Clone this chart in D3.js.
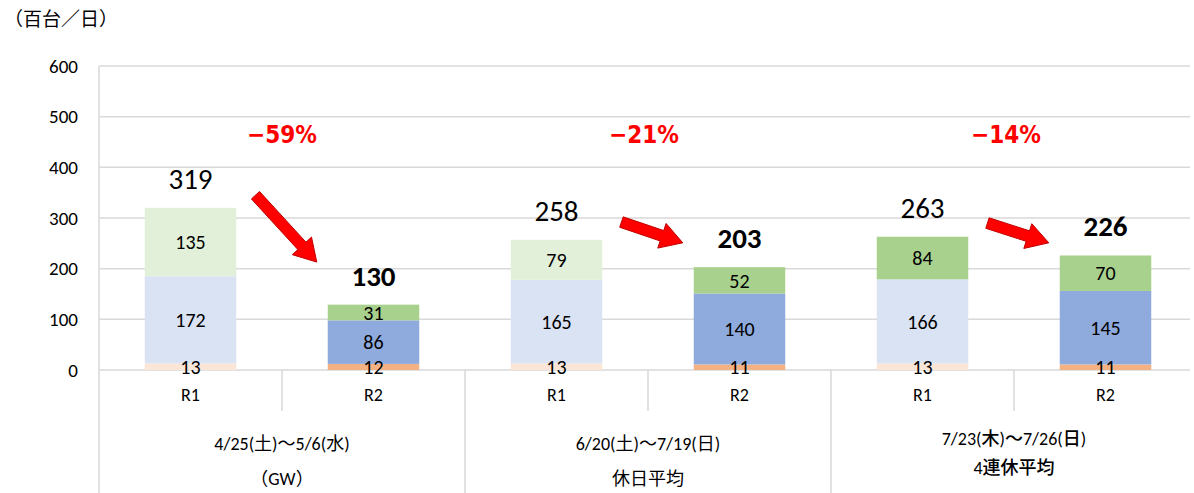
<!DOCTYPE html>
<html>
<head>
<meta charset="utf-8">
<script src="https://cdn.jsdelivr.net/npm/d3@7"></script>
<style>
  body { margin: 0; background: #fff; }
  text { font-family: Carlito, Lato, "Noto Sans CJK JP", sans-serif; fill: #000; }
</style>
</head>
<body>
<svg width="1194" height="493"></svg>
<script>
// data
let bars = ['g1R1', 'g1R2', 'g2R1', 'g2R2', 'g3R1', 'g3R2'];
let barLabels = ['R1', 'R2', 'R1', 'R2', 'R1', 'R2'];
let groupLabels = [
  ['4/25(土)～5/6(水)', '（GW）'],
  ['6/20(土)～7/19(日)', '休日平均'],
  ['7/23(木)～7/26(日)', '4連休平均']
];
let lowVals = [13, 12, 13, 11, 13, 11];
let midVals = [172, 86, 165, 140, 166, 145];
let topVals = [135, 31, 79, 52, 84, 70];
let totals = [319, 130, 258, 203, 263, 226];
let changes = ['−59%', '−21%', '−14%'];
let arrowFrom = [345, 292, 290];
let arrowTo = [213, 251, 251];
let yTicks = [0, 100, 200, 300, 400, 500, 600];

// colours per bar (pale for R1, strong for R2; 3rd group R1 top is strong green)
let lowFill = ['#fbe5d6', '#f4b183', '#fbe5d6', '#f4b183', '#fbe5d6', '#f4b183'];
let midFill = ['#dae3f3', '#8faadc', '#dae3f3', '#8faadc', '#dae3f3', '#8faadc'];
let topFill = ['#e2f0d9', '#a9d18e', '#e2f0d9', '#a9d18e', '#a9d18e', '#a9d18e'];

let svg = d3.select('svg');
let plotLeft = 99, plotRight = 1197, plotTop = 66, plotBottom = 370;

let x = d3.scaleBand().domain(bars).range([plotLeft, plotRight]).paddingInner(0.5).paddingOuter(0.25);
let y = d3.scaleLinear().domain([0, 600]).range([plotBottom, plotTop]);
let step = x.step();

// gridlines
svg.append('g')
  .selectAll('line')
  .data(yTicks)
  .join('line')
  .attr('x1', plotLeft)
  .attr('x2', 1190)
  .attr('y1', d => y(d))
  .attr('y2', d => y(d))
  .style('stroke', '#d9d9d9')
  .style('stroke-width', 1.5);

// y tick labels
svg.append('g')
  .selectAll('text')
  .data(yTicks)
  .join('text')
  .attr('x', 78)
  .attr('y', d => y(d))
  .attr('dy', '0.35em')
  .attr('text-anchor', 'end')
  .style('font-size', '19px')
  .text(d => d);

// unit
svg.append('text')
  .attr('x', 4)
  .attr('y', 26)
  .style('font-size', '19px')
  .style('font-family', '"Noto Sans CJK JP", sans-serif')
  .text('（百台／日）');

// stacked segments
let segs = [];
bars.forEach(function(b, i) {
  segs.push({ bar: b, y0: 0, y1: lowVals[i], v: lowVals[i], fill: lowFill[i] });
  segs.push({ bar: b, y0: lowVals[i], y1: lowVals[i] + midVals[i], v: midVals[i], fill: midFill[i] });
  segs.push({ bar: b, y0: lowVals[i] + midVals[i], y1: lowVals[i] + midVals[i] + topVals[i], v: topVals[i], fill: topFill[i] });
});

svg.append('g')
  .selectAll('rect')
  .data(segs)
  .join('rect')
  .attr('x', d => x(d.bar))
  .attr('width', x.bandwidth())
  .attr('y', d => y(d.y1))
  .attr('height', d => y(d.y0) - y(d.y1))
  .style('fill', d => d.fill);

svg.append('g')
  .selectAll('text')
  .data(segs)
  .join('text')
  .attr('x', d => x(d.bar) + x.bandwidth() / 2)
  .attr('y', d => (y(d.y0) + y(d.y1)) / 2)
  .attr('dy', '0.36em')
  .attr('text-anchor', 'middle')
  .style('font-size', '20px')
  .text(d => d.v);

// totals
svg.append('g')
  .selectAll('text')
  .data(bars)
  .join('text')
  .attr('x', d => x(d) + x.bandwidth() / 2)
  .attr('y', (d, i) => y(lowVals[i] + midVals[i] + topVals[i]) - 19)
  .attr('text-anchor', 'middle')
  .style('font-size', '29px')
  .style('font-weight', (d, i) => i % 2 ? 'bold' : 'normal')
  .text((d, i) => totals[i]);

// change labels
svg.append('g')
  .selectAll('text')
  .data(changes)
  .join('text')
  .attr('x', (d, i) => x(bars[2 * i]) + x.bandwidth() + step / 4 - 4 * i)
  .attr('y', 143)
  .attr('text-anchor', 'middle')
  .style('font-family', '"Liberation Sans Narrow", "DejaVu Sans Condensed", sans-serif')
  .style('font-weight', 'bold')
  .style('font-size', '24px')
  .style('fill', '#ff0000')
  .text(d => d);

// arrows
function arrowPath(x1, y1, x2, y2) {
  let dx = x2 - x1, dy = y2 - y1;
  let len = Math.sqrt(dx * dx + dy * dy);
  let ux = dx / len, uy = dy / len, nx = -uy, ny = ux;
  let sw = 5.5, hw = 13, hl = 22;
  let pts = [
    [0, -sw], [len - hl, -sw], [len - hl, -hw], [len, 0],
    [len - hl, hw], [len - hl, sw], [0, sw]
  ].map(p => [x1 + ux * p[0] + nx * p[1], y1 + uy * p[0] + ny * p[1]]);
  return d3.line()(pts) + 'Z';
}

svg.append('g')
  .selectAll('path')
  .data(changes)
  .join('path')
  .attr('d', (d, i) => arrowPath(
    x(bars[2 * i]) + x.bandwidth() / 2 + step * 0.355, y(arrowFrom[i]),
    x(bars[2 * i + 1]) + x.bandwidth() / 2 - step * 0.31, y(arrowTo[i])))
  .style('fill', '#ff0000')
  .style('stroke', '#c00000')
  .style('stroke-width', 1);

// category axis lines
svg.append('line')
  .attr('x1', plotLeft).attr('x2', plotLeft)
  .attr('y1', plotTop).attr('y2', 493)
  .style('stroke', '#d9d9d9').style('stroke-width', 1.5);

svg.append('g')
  .selectAll('line')
  .data(groupLabels)
  .join('line')
  .attr('x1', (d, i) => x(bars[2 * i + 1]) + x.bandwidth() + step / 4)
  .attr('x2', (d, i) => x(bars[2 * i + 1]) + x.bandwidth() + step / 4)
  .attr('y1', plotBottom)
  .attr('y2', 493)
  .style('stroke', '#d9d9d9').style('stroke-width', 1.5);

svg.append('g')
  .selectAll('line')
  .data(groupLabels)
  .join('line')
  .attr('x1', (d, i) => x(bars[2 * i]) + x.bandwidth() + step / 4)
  .attr('x2', (d, i) => x(bars[2 * i]) + x.bandwidth() + step / 4)
  .attr('y1', plotBottom)
  .attr('y2', 411)
  .style('stroke', '#d9d9d9').style('stroke-width', 1.5);

// bar labels
svg.append('g')
  .selectAll('text')
  .data(bars)
  .join('text')
  .attr('x', d => x(d) + x.bandwidth() / 2)
  .attr('y', 401)
  .attr('text-anchor', 'middle')
  .style('font-size', '18px')
  .text((d, i) => barLabels[i]);

// group labels
let lineY = [[450, 485], [450, 485], [445, 474]];
groupLabels.forEach(function(lines, i) {
  let cx = x(bars[2 * i]) + x.bandwidth() + step / 4;
  svg.append('g')
    .selectAll('text')
    .data(lines)
    .join('text')
    .attr('x', cx)
    .attr('y', (d, j) => lineY[i][j])
    .attr('text-anchor', 'middle')
    .style('font-size', '18px')
    .style('font-weight', i === 2 ? 500 : 'normal')
    .text(d => d);
});
</script>
</body>
</html>
